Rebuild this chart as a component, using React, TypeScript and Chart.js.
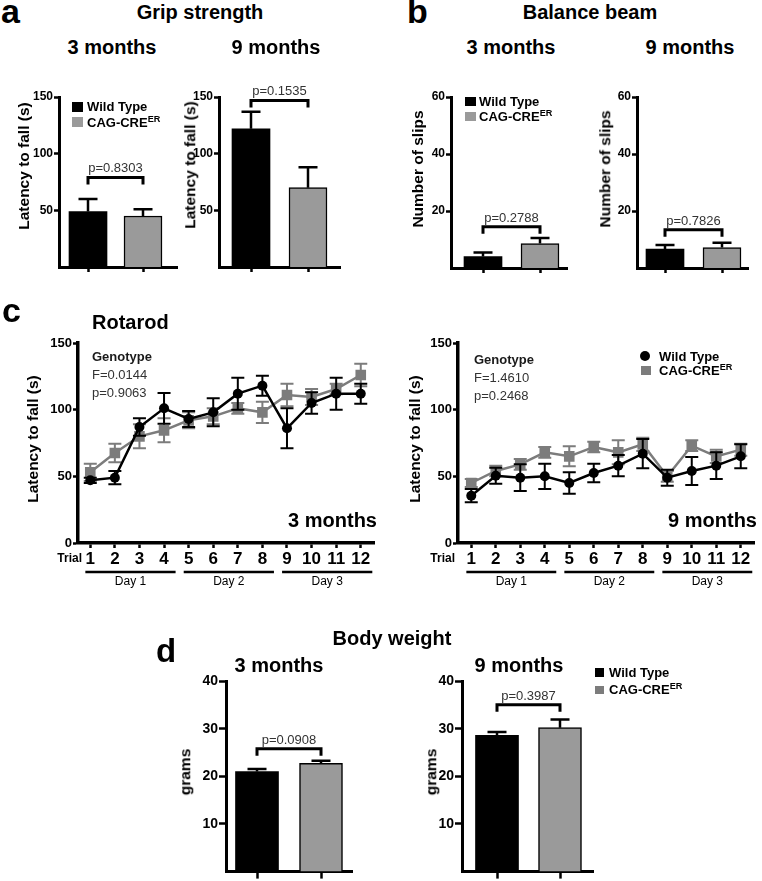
import React, { useEffect, useRef } from 'react';
import { Chart, registerables } from 'chart.js';

Chart.register(...registerables);

const FONT = '"Liberation Sans", Arial, Helvetica, sans-serif';
const INK = '#000000';
const BAR_GRAY = '#9a9a9a';
const LINE_GRAY = '#7c7c7c';
const NOTE = '#333333';

// ---------------- data ----------------
const gripMean3 = [49, 45];
const gripSem3 = [11, 6];
const gripMean9 = [122, 70];
const gripSem9 = [15, 18];
const gripTicks = [50, 100, 150];
const gripP = ['p=0.8303', 'p=0.1535'];

const beamMean3 = [4.0, 8.6];
const beamSem3 = [1.4, 1.9];
const beamMean9 = [6.6, 7.2];
const beamSem9 = [1.5, 1.7];
const beamTicks = [20, 40, 60];
const beamP = ['p=0.2788', 'p=0.7826'];

const weightMean3 = [21.0, 22.7];
const weightSem3 = [0.55, 0.55];
const weightMean9 = [28.6, 30.2];
const weightSem9 = [0.7, 1.7];
const weightTicks = [10, 20, 30, 40];
const weightP = ['p=0.0908', 'p=0.3987'];

const trials = [1, 2, 3, 4, 5, 6, 7, 8, 9, 10, 11, 12];
const rotaTicks = [0, 50, 100, 150];
const days = ['Day 1', 'Day 2', 'Day 3'];
const rotaWt3 = [47, 49, 87, 101, 93, 98, 112, 118, 86, 105, 112, 112];
const rotaWt3Sem = [2, 5, 6.5, 11.5, 6, 10.5, 12, 7.5, 15, 8, 12, 7.5];
const rotaCag3 = [53, 67.5, 80, 84.5, 92, 95, 101, 98, 111, 109.5, 115.5, 126];
const rotaCag3Sem = [6.5, 7, 9, 9, 6, 6, 4, 8, 8.5, 6, 4, 8.5];
const rotaWt9 = [35.5, 50.5, 49, 50, 45, 52.5, 58, 67, 49, 54, 58, 65];
const rotaWt9Sem = [5, 6, 10, 9.5, 8, 7, 8, 11, 6, 10.5, 10, 9];
const rotaCag9 = [45, 54, 59, 68, 65, 72, 68, 74, 50, 73, 65, 70];
const rotaCag9Sem = [3, 4, 4, 4, 7.5, 4, 9, 5, 4, 4, 5, 4.5];
const rotaStats3 = ['F=0.0144', 'p=0.9063'];
const rotaStats9 = ['F=1.4610', 'p=0.2468'];

// ---------------- layout ----------------
type BarLayout = {
  left: number; right: number; top: number; bottom: number;
  centers: [number, number]; barWidth: number; tickFont: number; tickLen: number;
};
type BarSpec = BarLayout & {
  means: number[]; sems: number[]; ticks: number[]; yMax: number; bracket: number; pLabel: string;
};

const gripLayout3: BarLayout = { left: 59, right: 177, top: 97, bottom: 267, centers: [88, 143], barWidth: 38, tickFont: 12, tickLen: 5 };
const gripLayout9: BarLayout = { left: 219, right: 340, top: 97, bottom: 267, centers: [251, 308], barWidth: 38, tickFont: 12, tickLen: 5 };
const beamLayout3: BarLayout = { left: 451, right: 567, top: 97, bottom: 268, centers: [483, 540], barWidth: 38, tickFont: 12, tickLen: 5 };
const beamLayout9: BarLayout = { left: 637, right: 748, top: 97, bottom: 268, centers: [665, 722], barWidth: 38, tickFont: 12, tickLen: 5 };
const weightLayout3: BarLayout = { left: 226, right: 352, top: 681, bottom: 872, centers: [257, 321], barWidth: 43, tickFont: 14, tickLen: 7 };
const weightLayout9: BarLayout = { left: 462, right: 593, top: 681, bottom: 872, centers: [497, 560], barWidth: 43, tickFont: 14, tickLen: 7 };

const specs: BarSpec[] = [
  { ...gripLayout3, means: gripMean3, sems: gripSem3, ticks: gripTicks, yMax: 150, bracket: 79, pLabel: gripP[0] },
  { ...gripLayout9, means: gripMean9, sems: gripSem9, ticks: gripTicks, yMax: 150, bracket: 147, pLabel: gripP[1] },
  { ...beamLayout3, means: beamMean3, sems: beamSem3, ticks: beamTicks, yMax: 60, bracket: 14.5, pLabel: beamP[0] },
  { ...beamLayout9, means: beamMean9, sems: beamSem9, ticks: beamTicks, yMax: 60, bracket: 13.4, pLabel: beamP[1] },
  { ...weightLayout3, means: weightMean3, sems: weightSem3, ticks: weightTicks, yMax: 40, bracket: 25.8, pLabel: weightP[0] },
  { ...weightLayout9, means: weightMean9, sems: weightSem9, ticks: weightTicks, yMax: 40, bracket: 35, pLabel: weightP[1] },
];

type LineLayout = { left: number; right: number; top: number; bottom: number; first: number; last: number };
type LineSpec = LineLayout & { wt: number[]; wtSem: number[]; cag: number[]; cagSem: number[] };

const rotaLayout3: LineLayout = { left: 78, right: 380, top: 343, bottom: 543, first: 90.5, last: 366 };
const rotaLayout9: LineLayout = { left: 458, right: 760, top: 343, bottom: 543, first: 471.5, last: 746 };

const lineSpecs: LineSpec[] = [
  { ...rotaLayout3, wt: rotaWt3, wtSem: rotaWt3Sem, cag: rotaCag3, cagSem: rotaCag3Sem },
  { ...rotaLayout9, wt: rotaWt9, wtSem: rotaWt9Sem, cag: rotaCag9, cagSem: rotaCag9Sem },
];

// ---------------- components ----------------
function BarPanel({ spec }: { spec: BarSpec }) {
  const ref = useRef<HTMLCanvasElement>(null);
  const padL = 50, padT = 20, padR = 6;
  const padB = Math.min(16, 881 - spec.bottom);
  const cw = spec.right - spec.left + padL + padR;
  const ch = spec.bottom - spec.top + padT + padB;
  useEffect(() => {
    const unit = spec.centers[1] - spec.centers[0];
    const xmin = 1 - (spec.centers[0] - spec.left) / unit;
    const xmax = 2 + (spec.right - spec.centers[1]) / unit;
    const deco = {
      id: 'deco',
      afterDatasetsDraw(chart: any) {
        const ctx = chart.ctx;
        const ys = chart.scales.y;
        const xs = chart.scales.x;
        const meta = chart.getDatasetMeta(0);
        ctx.save();
        ctx.strokeStyle = INK;
        ctx.lineWidth = 2.5;
        meta.data.forEach((el: any, i: number) => {
          const top = ys.getPixelForValue(spec.means[i] + spec.sems[i]);
          ctx.beginPath();
          ctx.moveTo(el.x, el.y);
          ctx.lineTo(el.x, top);
          ctx.moveTo(el.x - 9.5, top);
          ctx.lineTo(el.x + 9.5, top);
          ctx.stroke();
        });
        const y = ys.getPixelForValue(spec.bracket);
        const x1 = xs.getPixelForValue(1);
        const x2 = xs.getPixelForValue(2);
        ctx.lineWidth = 3;
        ctx.beginPath();
        ctx.moveTo(x1, y + 7);
        ctx.lineTo(x1, y);
        ctx.lineTo(x2, y);
        ctx.lineTo(x2, y + 7);
        ctx.stroke();
        ctx.fillStyle = NOTE;
        ctx.font = `13px ${FONT}`;
        ctx.textAlign = 'center';
        ctx.textBaseline = 'alphabetic';
        ctx.fillText(spec.pLabel, (x1 + x2) / 2, y - 5);
        ctx.restore();
      },
    };
    const chart = new Chart(ref.current!, {
      type: 'bar',
      data: {
        datasets: [{
          data: spec.means.map((m, i) => ({ x: i + 1, y: m })),
          backgroundColor: [INK, BAR_GRAY],
          borderColor: INK,
          borderWidth: [0, 1.5],
          barThickness: spec.barWidth,
        }],
      },
      options: {
        animation: false,
        responsive: false,
        devicePixelRatio: 1,
        layout: { padding: { left: 0, top: padT, right: padR, bottom: 0 } },
        plugins: { legend: { display: false }, tooltip: { enabled: false } },
        scales: {
          x: {
            type: 'linear', min: xmin, max: xmax, offset: false,
            afterFit: (s: any) => { s.height = padB; },
            afterBuildTicks: (a: any) => { a.ticks = [{ value: 1 }, { value: 2 }]; },
            ticks: { callback: () => '', padding: 0 },
            grid: { display: true, drawOnChartArea: false, drawTicks: true, tickLength: spec.tickLen, tickWidth: 2.5, tickColor: INK, offset: false },
            border: { display: true, color: INK, width: 3 },
          },
          y: {
            min: 0, max: spec.yMax,
            afterFit: (s: any) => { s.width = padL; },
            afterBuildTicks: (a: any) => { a.ticks = spec.ticks.map((v) => ({ value: v })); },
            ticks: { font: { family: FONT, size: spec.tickFont, weight: 'bold' }, color: INK, padding: 1 },
            grid: { display: true, drawOnChartArea: false, drawTicks: true, tickLength: spec.tickLen, tickWidth: 2.5, tickColor: INK },
            border: { display: true, color: INK, width: 3 },
          },
        },
      } as any,
      plugins: [deco],
    });
    return () => chart.destroy();
  }, [spec]);
  return (
    <canvas ref={ref} width={cw} height={ch}
      style={{ position: 'absolute', left: spec.left - padL, top: spec.top - padT, width: cw, height: ch }} />
  );
}

function LinePanel({ spec }: { spec: LineSpec }) {
  const ref = useRef<HTMLCanvasElement>(null);
  const padL = 60, padT = 15, padB = 50;
  const cRight = Math.min(spec.right + 2, 762);
  const padR = cRight - spec.right;
  const cw = cRight - (spec.left - padL);
  const ch = spec.bottom - spec.top + padT + padB;
  useEffect(() => {
    const unit = (spec.last - spec.first) / 11;
    const xmin = 1 - (spec.first - spec.left) / unit;
    const xmax = 12 + (spec.right - spec.last) / unit;
    const sems = [spec.wtSem, spec.cagSem];
    const colors = [INK, LINE_GRAY];
    const errs = {
      id: 'errs',
      beforeDatasetDraw(chart: any, args: any) {
        const ctx = chart.ctx;
        const ys = chart.scales.y;
        const i = args.index;
        const meta = chart.getDatasetMeta(i);
        const vals = chart.data.datasets[i].data;
        ctx.save();
        ctx.strokeStyle = colors[i];
        ctx.lineWidth = 2;
        meta.data.forEach((el: any, k: number) => {
          const v = vals[k].y;
          const t = ys.getPixelForValue(v + sems[i][k]);
          const b = ys.getPixelForValue(v - sems[i][k]);
          ctx.beginPath();
          ctx.moveTo(el.x, t); ctx.lineTo(el.x, b);
          ctx.moveTo(el.x - 6.5, t); ctx.lineTo(el.x + 6.5, t);
          ctx.moveTo(el.x - 6.5, b); ctx.lineTo(el.x + 6.5, b);
          ctx.stroke();
        });
        ctx.restore();
      },
    };
    const dayDeco = {
      id: 'days',
      afterDraw(chart: any) {
        const ctx = chart.ctx;
        const xs = chart.scales.x;
        const y = chart.chartArea.bottom + 29;
        ctx.save();
        ctx.strokeStyle = INK;
        ctx.fillStyle = INK;
        ctx.lineWidth = 2.7;
        ctx.font = `12px ${FONT}`;
        ctx.textAlign = 'center';
        ctx.textBaseline = 'alphabetic';
        days.forEach((d, g) => {
          const a = xs.getPixelForValue(trials[g * 4] - 0.2);
          const b = xs.getPixelForValue(trials[g * 4 + 3] + 0.47);
          ctx.beginPath();
          ctx.moveTo(a, y); ctx.lineTo(b, y);
          ctx.stroke();
          ctx.fillText(d, (a + b) / 2, y + 12.5);
        });
        ctx.restore();
      },
    };
    const chart = new Chart(ref.current!, {
      type: 'line',
      data: {
        datasets: [
          {
            data: trials.map((t, k) => ({ x: t, y: spec.wt[k] })),
            borderColor: INK, backgroundColor: INK, borderWidth: 2.5,
            pointStyle: 'circle', pointRadius: 5, pointBorderWidth: 0, pointBackgroundColor: INK,
          },
          {
            data: trials.map((t, k) => ({ x: t, y: spec.cag[k] })),
            borderColor: LINE_GRAY, backgroundColor: LINE_GRAY, borderWidth: 2.5,
            pointStyle: 'rect', pointRadius: 7.5, pointBorderWidth: 0, pointBackgroundColor: LINE_GRAY,
          },
        ],
      },
      options: {
        animation: false,
        responsive: false,
        devicePixelRatio: 1,
        layout: { padding: { left: 0, top: padT, right: padR, bottom: 0 } },
        plugins: { legend: { display: false }, tooltip: { enabled: false } },
        scales: {
          x: {
            type: 'linear', min: xmin, max: xmax,
            afterFit: (s: any) => { s.height = padB; },
            afterBuildTicks: (a: any) => { a.ticks = trials.map((v) => ({ value: v })); },
            ticks: { font: { family: FONT, size: 17, weight: 'bold' }, color: INK, padding: 1, autoSkip: false, maxRotation: 0, minRotation: 0, callback: (v: any) => String(v) },
            grid: { display: true, drawOnChartArea: false, drawTicks: true, tickLength: 5, tickWidth: 2.5, tickColor: INK },
            border: { display: true, color: INK, width: 3.5 },
          },
          y: {
            min: 0, max: 150,
            afterFit: (s: any) => { s.width = padL; },
            afterBuildTicks: (a: any) => { a.ticks = rotaTicks.map((v) => ({ value: v })); },
            ticks: { font: { family: FONT, size: 13, weight: 'bold' }, color: INK, padding: 1 },
            grid: { display: true, drawOnChartArea: false, drawTicks: true, tickLength: 5, tickWidth: 2.5, tickColor: INK },
            border: { display: true, color: INK, width: 3.5 },
          },
        },
      } as any,
      plugins: [errs, dayDeco],
    });
    return () => chart.destroy();
  }, [spec]);
  return (
    <canvas ref={ref} width={cw} height={ch}
      style={{ position: 'absolute', left: spec.left - padL, top: spec.top - padT, width: cw, height: ch }} />
  );
}

type TxtProps = { x: number; y: number; size: number; bold?: boolean; align?: 'left' | 'center' | 'right'; color?: string; children: React.ReactNode };
function Txt({ x, y, size, bold, align = 'left', color = INK, children }: TxtProps) {
  const tx = align === 'center' ? 'translateX(-50%)' : align === 'right' ? 'translateX(-100%)' : 'none';
  return (
    <div style={{
      position: 'absolute', left: x, top: y - 0.8465 * size, fontFamily: FONT, fontSize: size,
      fontWeight: bold ? 700 : 400, lineHeight: `${size}px`, color, whiteSpace: 'nowrap', transform: tx,
    }}>{children}</div>
  );
}

function VTitle({ cx, cy, size, children }: { cx: number; cy: number; size: number; children: React.ReactNode }) {
  return (
    <div style={{
      position: 'absolute', left: cx, top: cy, transform: 'translate(-50%,-50%) rotate(-90deg)',
      fontFamily: FONT, fontSize: size, fontWeight: 700, lineHeight: `${size}px`, whiteSpace: 'nowrap', color: INK,
    }}>{children}</div>
  );
}

const Sup = ({ children }: { children: React.ReactNode }) => (
  <span style={{ fontSize: '0.7em', position: 'relative', top: '-0.55em', lineHeight: 0 }}>{children}</span>
);

function Box({ x, y, w, h, color, round }: { x: number; y: number; w: number; h: number; color: string; round?: boolean }) {
  return <div style={{ position: 'absolute', left: x, top: y, width: w, height: h, background: color, borderRadius: round ? '50%' : 0 }} />;
}

function CagLabel() {
  return <>CAG-CRE<Sup>ER</Sup></>;
}

export default function App() {
  return (
    <div style={{ position: 'absolute', left: 0, top: 0, width: 762, height: 881, background: '#fff', overflow: 'hidden' }}>
      {specs.map((s, i) => <BarPanel key={'b' + i} spec={s} />)}
      {lineSpecs.map((s, i) => <LinePanel key={'l' + i} spec={s} />)}

      {/* panel a */}
      <Txt x={1} y={23} size={34} bold>a</Txt>
      <Txt x={200} y={18.5} size={20} bold align="center">Grip strength</Txt>
      <Txt x={112} y={54} size={20} bold align="center">3 months</Txt>
      <Txt x={276} y={54} size={20} bold align="center">9 months</Txt>
      <VTitle cx={24} cy={166} size={15.5}>Latency to fall (s)</VTitle>
      <VTitle cx={190} cy={165} size={15.5}>Latency to fall (s)</VTitle>
      <Box x={72} y={102} w={11} h={10} color={INK} />
      <Box x={72} y={117} w={11} h={10} color={BAR_GRAY} />
      <Txt x={87} y={111.5} size={13} bold>Wild Type</Txt>
      <Txt x={87} y={127} size={13} bold><CagLabel /></Txt>

      {/* panel b */}
      <Txt x={407} y={23} size={34} bold>b</Txt>
      <Txt x={590} y={18.5} size={20} bold align="center">Balance beam</Txt>
      <Txt x={511} y={54} size={20} bold align="center">3 months</Txt>
      <Txt x={690} y={54} size={20} bold align="center">9 months</Txt>
      <VTitle cx={418} cy={169} size={15.5}>Number of slips</VTitle>
      <VTitle cx={605} cy={169} size={15.5}>Number of slips</VTitle>
      <Box x={465} y={97} w={11} h={9} color={INK} />
      <Box x={465} y={112} w={11} h={9} color={BAR_GRAY} />
      <Txt x={479} y={106} size={13} bold>Wild Type</Txt>
      <Txt x={479} y={121.5} size={13} bold><CagLabel /></Txt>

      {/* panel c */}
      <Txt x={2} y={322} size={34} bold>c</Txt>
      <Txt x={92} y={329} size={20} bold>Rotarod</Txt>
      <VTitle cx={33} cy={439} size={15.5}>Latency to fall (s)</VTitle>
      <VTitle cx={415} cy={439} size={15.5}>Latency to fall (s)</VTitle>
      <Txt x={92} y={361} size={13} bold color="#1a1a1a">Genotype</Txt>
      <Txt x={92} y={379} size={13} color={NOTE}>{rotaStats3[0]}</Txt>
      <Txt x={92} y={397} size={13} color={NOTE}>{rotaStats3[1]}</Txt>
      <Txt x={474} y={364} size={13} bold color="#1a1a1a">Genotype</Txt>
      <Txt x={474} y={382} size={13} color={NOTE}>{rotaStats9[0]}</Txt>
      <Txt x={474} y={400} size={13} color={NOTE}>{rotaStats9[1]}</Txt>
      <Txt x={377} y={527} size={20} bold align="right">3 months</Txt>
      <Txt x={757} y={527} size={20} bold align="right">9 months</Txt>
      <Txt x={82} y={562} size={12} bold align="right">Trial</Txt>
      <Txt x={455} y={562.5} size={12} bold align="right">Trial</Txt>
      <Box x={640} y={351} w={10} h={10} color={INK} round />
      <Box x={641} y={366} w={10} h={9} color={LINE_GRAY} />
      <Txt x={659} y={361} size={13} bold>Wild Type</Txt>
      <Txt x={659} y={375.5} size={13} bold><CagLabel /></Txt>

      {/* panel d */}
      <Txt x={156} y={662} size={33} bold>d</Txt>
      <Txt x={392} y={645} size={20} bold align="center">Body weight</Txt>
      <Txt x={279} y={672} size={20} bold align="center">3 months</Txt>
      <Txt x={519} y={672} size={20} bold align="center">9 months</Txt>
      <VTitle cx={185} cy={772} size={15.5}>grams</VTitle>
      <VTitle cx={431} cy={772} size={15.5}>grams</VTitle>
      <Box x={595} y={668} w={9} h={9} color={INK} />
      <Box x={595} y={686} w={9} h={8} color={LINE_GRAY} />
      <Txt x={609} y={677} size={13} bold>Wild Type</Txt>
      <Txt x={609} y={694} size={13} bold><CagLabel /></Txt>
    </div>
  );
}
